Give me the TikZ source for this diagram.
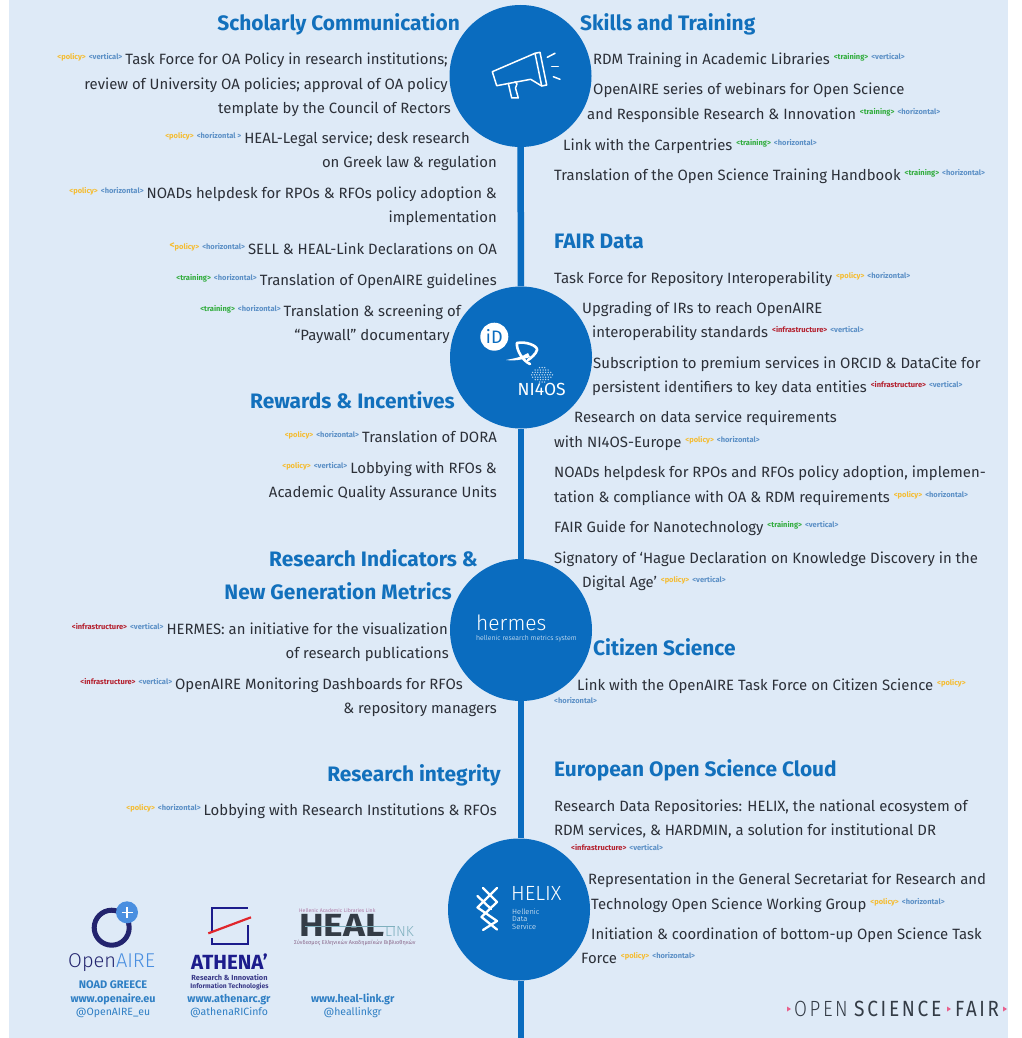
\documentclass[tikz,border=0pt]{standalone}
\usepackage{fontspec}
\usepackage{graphicx}
\setmainfont{Fira Sans}
\newfontfamily\lightf{Fira Sans Light}
\newfontfamily\ofsf[LetterSpace=14]{Fira Sans Light}
\newfontfamily\ofrf[LetterSpace=14]{Fira Sans}
\definecolor{bgc}{HTML}{DEEAF7}
\definecolor{blu}{HTML}{0A6CBF}
\definecolor{head}{HTML}{1270BC}
\definecolor{txt}{HTML}{2C3038}
\definecolor{polc}{HTML}{F5BC30}
\definecolor{trac}{HTML}{30AC3C}
\definecolor{infc}{HTML}{B4202E}
\definecolor{axic}{HTML}{5C90C6}
\definecolor{navy}{HTML}{23246E}
\definecolor{oair}{HTML}{4A8FE0}
\definecolor{athn}{HTML}{1C1C8C}
\definecolor{athr}{HTML}{E0262C}
\definecolor{lnkb}{HTML}{2F7FC4}
\definecolor{hgr}{HTML}{343C46}
\definecolor{hlt}{HTML}{7FB0BE}
\definecolor{hpk}{HTML}{B07CA8}
\definecolor{ofp}{HTML}{E8608C}
\newcommand\tagf[2]{{\fontsize{7.5}{8}\selectfont\bfseries\color{#1}\raisebox{5pt}{#2}}}
\newcommand\tP{\tagf{polc}{<policy>}}
\newcommand\tT{\tagf{trac}{<training>}}
\newcommand\tI{\tagf{infc}{<infrastructure>}}
\newcommand\tV{\tagf{axic}{<vertical>}}
\newcommand\tH{\tagf{axic}{<horizontal>}}
\newcommand\tsep{\hspace{3pt}}
\newcommand\tgap{\hspace{3pt}}
\tikzset{
  bodytxt/.style={inner sep=0pt,yshift=-0.7pt,text=txt,font=\fontsize{14.9}{18}\selectfont},
  lt/.style={bodytxt,anchor=base east},
  rt/.style={bodytxt,anchor=base west},
  headl/.style={inner sep=0pt,yshift=-0.7pt,text=head,anchor=base east,font=\fontsize{20.9}{25}\selectfont\bfseries},
  headr/.style={inner sep=0pt,yshift=-0.7pt,text=head,anchor=base west,font=\fontsize{20.9}{25}\selectfont\bfseries},
  hub/.style={circle,fill=blu,minimum size=142pt,inner sep=0pt},
  spine/.style={draw=blu,line width=6.5pt},
  iconl/.style={draw=white,line width=1.5pt,line join=round,line cap=round},
  wt/.style={inner sep=0pt,text=white,anchor=base west},
  lnk/.style={inner sep=0pt,anchor=base,text=lnkb,font=\fontsize{10.8}{14}\selectfont\bfseries},
  hnd/.style={inner sep=0pt,anchor=base,text=lnkb,font=\fontsize{10.5}{14}\selectfont},
  ofs/.style={inner sep=0pt,anchor=base west,text=hgr,font=\fontsize{22}{24}\ofsf}
}
\begin{document}
\begin{tikzpicture}[x=1pt,y=-1pt]
\useasboundingbox (0,0) rectangle (1021,1038);
\fill[white] (0,0) rectangle (1021,1038);
\fill[bgc] (9,0) rectangle (1008,1038);
% hubs and spine
\node[hub] (hubA) at (520.5,76) {};
\node[hub] (hubB) at (521,357.5) {};
\node[hub] (hubC) at (521,630) {};
\node[hub] (hubD) at (519,909.5) {};
\coordinate (spineEnd) at (521,1038);
\draw[spine] (hubA) -- (hubB);
\draw[spine] (hubB) -- (hubC);
\draw[spine] (hubC) -- (hubD.north -| hubC);
\draw[spine] (hubD.south -| spineEnd) -- (spineEnd);
% megaphone
\draw[iconl] (492.3,71.7) -- (535,53.3) -- (540,52.3) -- (546.7,85) -- (541.7,86) -- (530.7,79.3) -- (496.7,85.7) -- cycle;
\draw[iconl] (535,53.3) -- (541.7,86);
\draw[iconl] (508.3,83.3) -- (511.7,98) -- (518.3,98) -- (515.5,88) -- (517,84) -- (515,81.7);
\draw[iconl] (547.3,57.3) -- (555,53.3);
\draw[iconl] (551.7,66.7) -- (558.3,66.7);
\draw[iconl] (553.3,76.7) -- (560,79.3);
% iD
\fill[white] (494.3,336.7) circle (14);
\node[inner sep=0pt,text=blu,font=\fontsize{18}{20}\selectfont] (orcid) at (494.3,336.7) {iD};
% swoosh
\draw[white,line width=2.6pt,line cap=round] (517,343) .. controls (526,341) and (538,346) .. (537,350) .. controls (536,354) and (531,358) .. (528,360);
\draw[white,line width=2.6pt,line cap=round] (517,343) .. controls (516,350) and (523,361) .. (530,364);
\fill[white] (506,360) .. controls (514,358.5) and (522,357) .. (528,353) -- (530,357) .. controls (522,360) and (514,361) .. (506,360) -- cycle;
% data dots
\foreach \r/\n in {-8/3,-5/6,-2/8,1/9,4/8,7/6,10/3}{
  \foreach \i in {1,...,\n}{
    \fill[white,opacity=.75] ({541.7+(\i-(\n+1)/2)*2.6+mod(\n,2)*.4},{374+\r*.8}) circle (.75);
  }
}
\node[inner sep=0pt,anchor=base,text=white,font=\fontsize{17.5}{18}\selectfont] (nios) at (541.7,395.5) {NI4OS};
% hermes
\node[wt,font=\fontsize{21}{30}\lightf] (hermes) at (476,630) {hermes};
\node[wt,font=\fontsize{6.9}{9}\lightf] (hermesSub) at (476,640.5) {hellenic research metrics system};
% helix
\draw[white,line width=2.3pt,line cap=round,line join=round]
 (483,888) -- (497,902) -- (481.5,917) -- (497,929.5)
 (497,888) -- (477.5,907.5) -- (497,921) -- (483,930)
 (477.5,896) -- (491,909);
\node[wt,font=\fontsize{20.5}{24}\lightf] (helix) at (511,900.5) {HELIX};
\node[wt,font=\fontsize{7.5}{9}\lightf] (helixA) at (512,914) {Hellenic};
\node[wt,font=\fontsize{7.5}{9}\lightf] (helixB) at (512,921.5) {Data};
\node[wt,font=\fontsize{7.5}{9}\lightf] (helixC) at (512,929.5) {Service};
% left column
\node[headl] (h1) at (460,30) {Scholarly Communication};
\node[lt] (l1) at (448,64) {\tP\tsep\tV\tgap Task Force for OA Policy in research institutions;};
\node[lt] (l2) at (448,89) {review of University OA policies; approval of OA policy};
\node[lt] (l3) at (451,113) {template by the Council of Rectors};
\node[lt] (l4) at (470,143) {\tP\tsep\tagf{axic}{<horizontal >}\tgap HEAL-Legal service; desk research};
\node[lt] (l5) at (497,167) {on Greek law \& regulation};
\node[lt] (l6) at (497,198) {\tP\tsep\tH\tgap NOADs helpdesk for RPOs \& RFOs policy adoption \&};
\node[lt] (l7) at (497,222) {implementation};
\node[lt] (l8) at (497,254) {\tagf{polc}{\raisebox{1.5pt}{\fontsize{10}{10}\selectfont<}policy>}\tsep\tH\tgap SELL \& HEAL-Link Declarations on OA};
\node[lt] (l9) at (497,285) {\tT\tsep\tH\tgap Translation of OpenAIRE guidelines};
\node[lt] (l10) at (461,316) {\tT\tsep\tH\tgap Translation \& screening of};
\node[lt] (l11) at (450,340) {“Paywall” documentary};
\node[headl] (h2) at (455,408) {Rewards \& Incentives};
\node[lt] (l12) at (497,442) {\tP\tsep\tH\tgap Translation of DORA};
\node[lt] (l13) at (497,473) {\tP\tsep\tV\tgap Lobbying with RFOs \&};
\node[lt] (l14) at (497,497) {Academic Quality Assurance Units};
\node[headl] (h3) at (478,566) {Research Indicators \&};
\node[headl] (h4) at (452,599) {New Generation Metrics};
\node[lt] (l15) at (448,634) {\tI\tsep\tV\tgap HERMES: an initiative for the visualization};
\node[lt] (l16) at (449,658) {of research publications};
\node[lt] (l17) at (463,689) {\tI\tsep\tV\tgap OpenAIRE Monitoring Dashboards for RFOs};
\node[lt] (l18) at (497,713) {\& repository managers};
\node[headl] (h5) at (501,781) {Research integrity};
\node[lt] (l19) at (497,815) {\tP\tsep\tH\tgap Lobbying with Research Institutions \& RFOs};
% right column
\node[headr] (h6) at (580,30) {Skills and Training};
\node[rt] (r1) at (593,64) {RDM Training in Academic Libraries \tT\tsep\tV};
\node[rt] (r2) at (593,94) {OpenAIRE series of webinars for Open Science};
\node[rt] (r3) at (587,119) {and Responsible Research \& Innovation \tT\tsep\tH};
\node[rt] (r4) at (563,150) {Link with the Carpentries \tT\tsep\tH};
\node[rt] (r5) at (554,180) {Translation of the Open Science Training Handbook \tT\tsep\tH};
\node[headr] (h7) at (554,248) {FAIR Data};
\node[rt] (r6) at (554,283) {Task Force for Repository Interoperability \tP\tsep\tH};
\node[rt] (r7) at (582,313) {Upgrading of IRs to reach OpenAIRE};
\node[rt] (r8) at (592,337) {interoperability standards \tI\tsep\tV};
\node[rt] (r9) at (593,368) {Subscription to premium services in ORCID \& DataCite for};
\node[rt] (r10) at (592,392) {persistent identifiers to key data entities \tI\tsep\tV};
\node[rt] (r11) at (574,422) {Research on data service requirements};
\node[rt] (r12) at (554,447) {with NI4OS-Europe \tP\tsep\tH};
\node[rt] (r13) at (554,477) {NOADs helpdesk for RPOs and RFOs policy adoption, implemen-};
\node[rt] (r14) at (554,502) {tation \& compliance with OA \& RDM requirements \tP\tsep\tH};
\node[rt] (r15) at (554,532) {FAIR Guide for Nanotechnology \tT\tsep\tV};
\node[rt] (r16) at (554,563) {Signatory of ‘Hague Declaration on Knowledge Discovery in the};
\node[rt] (r17) at (582,587) {Digital Age’ \tP\tsep\tV};
\node[headr] (h8) at (593,655) {Citizen Science};
\node[rt] (r18) at (577,690) {Link with the OpenAIRE Task Force on Citizen Science \tP};
\node[rt] (r19) at (554,708) {\tH};
\node[headr] (h9) at (554,776) {European Open Science Cloud};
\node[rt] (r20) at (554,811) {Research Data Repositories: HELIX, the national ecosystem of};
\node[rt] (r21) at (554,835) {RDM services, \& HARDMIN, a solution for institutional DR};
\node[rt] (r22) at (571,855) {\tI\tsep\tV};
\node[rt] (r23) at (588,884) {Representation in the General Secretariat for Research and};
\node[rt] (r24) at (591,909) {Technology Open Science Working Group \tP\tsep\tH};
\node[rt] (r25) at (591,939) {Initiation \& coordination of bottom-up Open Science Task};
\node[rt] (r26) at (581,963) {Force \tP\tsep\tH};
% OpenAIRE logo
\draw[navy,line width=5pt] (111.7,927.7) circle (17.5);
\fill[oair] (127,912.3) circle (11);
\draw[white,line width=1.6pt] (121.5,912.3) -- (132.5,912.3) (127,906.8) -- (127,917.8);
\node[inner sep=0pt,anchor=base west,font=\fontsize{20}{25}\lightf] (oa) at (68,967) {\textcolor{navy}{Open}\textcolor{oair}{AIRE}};
\node[lnk,font=\fontsize{11}{14}\selectfont\bfseries] (noad) at (113,988) {NOAD GREECE};
\node[lnk] (oaw) at (113,1002) {www.openaire.eu};
\node[hnd] (oah) at (113,1015) {@OpenAIRE\_eu};
% ATHENA logo
\draw[athn,line width=2pt] (211.7,933) -- (211.7,907.5) -- (248.3,907.5);
\draw[athn,line width=2pt] (248.3,925) -- (248.3,943.5) -- (211.7,943.5) -- (211.7,938);
\draw[athr,line width=2.2pt] (208.3,933.3) -- (251,917.3);
\node[inner sep=0pt,anchor=base,text=athn,font=\fontsize{20.5}{24}\selectfont\bfseries] (ath) at (229.5,969) {ATHENA’};
\node[inner sep=0pt,anchor=base,text=athn!70!gray,font=\fontsize{7.4}{9}\selectfont\bfseries] (athA) at (229.5,980.5) {Research \& Innovation};
\node[inner sep=0pt,anchor=base,text=athn!70!gray,font=\fontsize{6.7}{9}\selectfont\bfseries] (athB) at (229.5,988.5) {Information Technologies};
\node[lnk] (athw) at (229,1002) {www.athenarc.gr};
\node[hnd] (athh) at (229,1015) {@athenaRICinfo};
% HEAL-Link logo
\node[inner sep=0pt,anchor=base west,text=hgr,font=\fontsize{32}{34}\selectfont\bfseries] (heal) at (299,936) {\scalebox{1.16}[1]{HEAL}};
\node[inner sep=0pt,anchor=base west,text=hlt,font=\fontsize{14.5}{18}\lightf] (hlnk) at (385,936) {LINK};
\draw[hlt,line width=.5pt] (305,926.5) -- (395,926.5);
\node[inner sep=0pt,anchor=base west,text=hpk,font=\fontsize{5.2}{6}\selectfont] (hlA) at (299,912.5) {Hellenic Academic Libraries Link};
\node[inner sep=0pt,anchor=base west,text=hpk!70!hgr,font=\fontsize{5.5}{6}\selectfont] (hlB) at (294,944.5) {Σύνδεσμος Ελληνικών Ακαδημαϊκών Βιβλιοθηκών};
\node[lnk] (hlw) at (352.7,1002) {www.heal-link.gr};
\node[hnd] (hlh) at (352.7,1015) {@heallinkgr};
% Open Science Fair
\fill[ofp] (787,1006.5) -- (791,1009) -- (787,1011.5) -- cycle;
\fill[ofp] (947,1006.5) -- (951,1009) -- (947,1011.5) -- cycle;
\fill[ofp] (1003,1006.5) -- (1007,1009) -- (1003,1011.5) -- cycle;
\node[ofs] (ofA) at (794,1016) {\scalebox{.85}[1]{OPEN}};
\node[ofs,font=\fontsize{22}{24}\ofrf] (ofB) at (854,1016) {\scalebox{.87}[1]{SCIENCE}};
\node[ofs,font=\fontsize{22}{24}\ofrf] (ofC) at (955,1016) {\scalebox{.85}[1]{FAIR}};
\end{tikzpicture}
\end{document}
